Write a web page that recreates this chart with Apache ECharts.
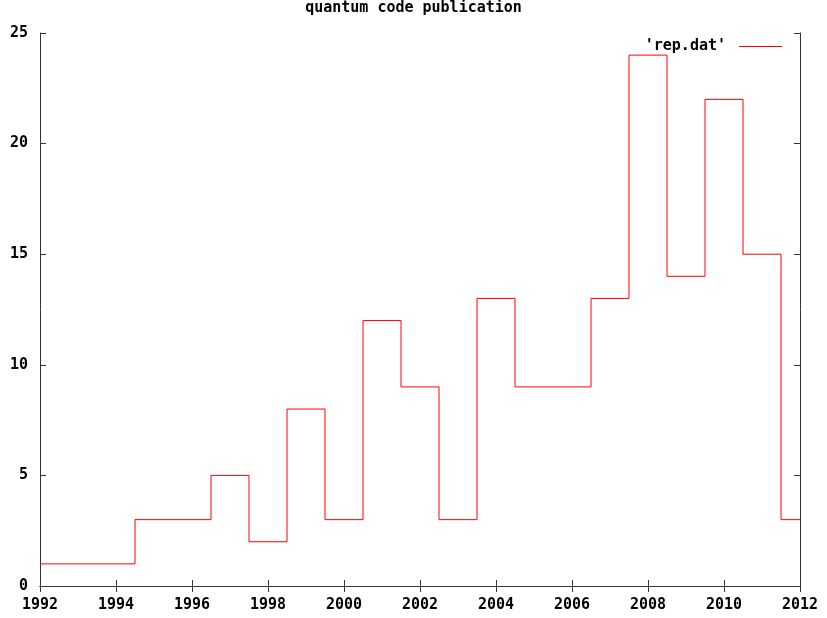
<!DOCTYPE html>
<html><head><meta charset="utf-8">
<script src="https://cdn.jsdelivr.net/npm/echarts@6/dist/echarts.min.js"></script>
<style>html,body{margin:0;padding:0;background:#fff}#c{width:827px;height:618px}</style>
</head><body><div id="c"></div>
<script>
const years = [1992,1993,1994,1995,1996,1997,1998,1999,2000,2001,2002,2003,2004,2005,2006,2007,2008,2009,2010,2011,2012];
const counts = [1,1,1,3,3,5,2,8,3,12,9,3,13,9,9,13,24,14,22,15,3];
const titleText = 'quantum code publication';
const seriesName = "'rep.dat'";

const font = 'DejaVu Sans Mono';
const fs = 15;
const chart = echarts.init(document.getElementById('c'));
const axisCommon = {
  axisLine: {show: true, lineStyle: {color: '#333', width: 1}},
  axisTick: {show: true, inside: true, length: 6, lineStyle: {color: '#333'}},
  splitLine: {show: false}
};
chart.setOption({
  animation: false,
  title: {text: titleText, left: 'center', top: 1, padding: 0, textStyle: {fontFamily: font, fontWeight: 'bold', fontSize: fs, color: '#000'}},
  legend: {right: 45, top: 39, align: 'right', icon: 'rect', itemWidth: 43, itemHeight: 1, itemGap: 0, padding: 0,
    textStyle: {fontFamily: font, fontWeight: 'bold', fontSize: fs, color: '#000', padding: [0, 8, 0, 0]},
    data: [{name: seriesName}]},
  grid: {left: 40, right: 27, top: 33, bottom: 32},
  xAxis: [
    Object.assign({type: 'value', min: 1992, max: 2012, interval: 2, position: 'bottom',
      axisLabel: {fontFamily: font, fontWeight: 'bold', fontSize: fs, color: '#000', margin: 12, formatter: v => String(v)}}, axisCommon),
    Object.assign({type: 'value', min: 1992, max: 2012, interval: 2, position: 'top', axisLabel: {show: false}}, axisCommon)
  ],
  yAxis: [
    Object.assign({type: 'value', min: 0, max: 25, interval: 5, position: 'left',
      axisLabel: {fontFamily: font, fontWeight: 'bold', fontSize: fs, color: '#000', margin: 12}}, axisCommon),
    Object.assign({type: 'value', min: 0, max: 25, interval: 5, position: 'right', axisLabel: {show: false}}, axisCommon)
  ],
  series: [{
    name: seriesName, type: 'line', step: 'middle', showSymbol: false, symbol: 'none',
    lineStyle: {color: '#ff0000', width: 1}, itemStyle: {color: '#ff0000'},
    data: years.map((y, i) => [y, counts[i]])
  }]
});
</script></body></html>
